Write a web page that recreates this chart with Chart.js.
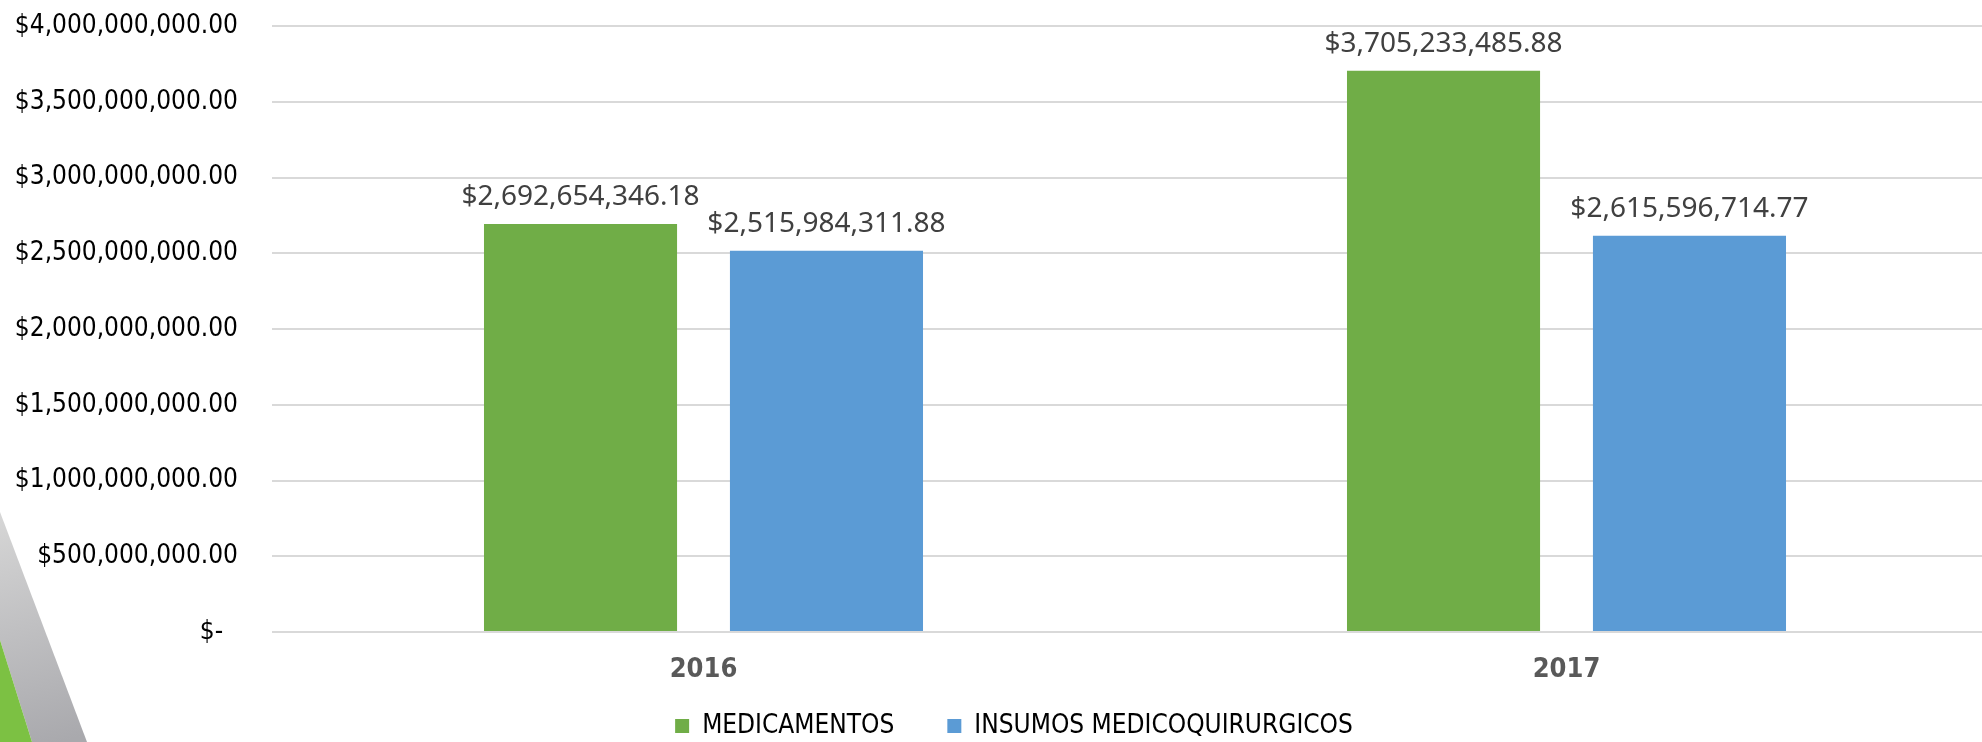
<!DOCTYPE html>
<html>
<head>
<meta charset="utf-8">
<script src="https://cdn.jsdelivr.net/npm/chart.js@4/dist/chart.umd.min.js"></script>
<style>
  html, body { margin: 0; padding: 0; background: #fff; overflow: hidden; width: 1982px; height: 742px; }
  #wrap { position: absolute; left: 0; top: 0; width: 2000px; height: 773px; }
</style>
</head>
<body>
<div id="wrap"><canvas id="medicine-chart" width="2000" height="773"></canvas></div>
<script>
// Chart data
const years = ["2016", "2017"];
const medicamentos = [2692654346.18, 3705233485.88];
const insumos = [2515984311.88, 2615596714.77];
const seriesNames = ["MEDICAMENTOS", "INSUMOS MEDICOQUIRURGICOS"];
const yMax = 4000000000;
const yStep = 500000000;

// Money format like Excel accounting
function money(v) {
  return "$" + v.toLocaleString("en-US", { minimumFractionDigits: 2, maximumFractionDigits: 2 });
}

// Slide decoration in the lower-left corner
const cornerDecor = {
  id: "cornerDecor",
  beforeDraw(chart) {
    const c = chart.ctx;
    c.save();
    const g = c.createLinearGradient(0, 515, 60, 742);
    g.addColorStop(0, "#d6d6d6");
    g.addColorStop(1, "#a9a9ad");
    c.fillStyle = g;
    c.beginPath();
    c.moveTo(0, 512);
    c.lineTo(87, 742);
    c.lineTo(32, 742);
    c.lineTo(0, 640);
    c.closePath();
    c.fill();
    c.fillStyle = "#7cc143";
    c.beginPath();
    c.moveTo(0, 640);
    c.lineTo(32, 742);
    c.lineTo(0, 742);
    c.closePath();
    c.fill();
    c.restore();
  },
};

// Nudge the legend up/right so it sits like the original slide
const legendNudge = {
  id: "legendNudge",
  afterLayout(chart) {
    const lg = chart.legend;
    lg.top -= 24;
    lg.bottom -= 24;
    lg.left += 15;
    lg.right += 15;
  },
};

// Value labels above the bars
const barLabels = {
  id: "barLabels",
  afterDatasetsDraw(chart) {
    const c = chart.ctx;
    c.save();
    c.font = "28px 'Noto Sans'";
    c.fillStyle = "#404040";
    c.textAlign = "center";
    c.textBaseline = "alphabetic";
    chart.data.datasets.forEach((ds, i) => {
      chart.getDatasetMeta(i).data.forEach((bar, j) => {
        c.fillText(money(ds.data[j]), bar.x, bar.y - 19);
      });
    });
    c.restore();
  },
};

const ctx = document.getElementById("medicine-chart").getContext("2d");
new Chart(ctx, {
  type: "bar",
  data: {
    labels: years,
    datasets: [
      { label: seriesNames[0], data: medicamentos, backgroundColor: "#70ad47" },
      { label: seriesNames[1], data: insumos, backgroundColor: "#5b9bd5" },
    ],
  },
  options: {
    responsive: false,
    animation: false,
    layout: { padding: { left: 0, right: 2, top: 26, bottom: 0 } },
    datasets: { bar: { barPercentage: 0.785, categoryPercentage: 0.57 } },
    scales: {
      x: {
        grid: { display: false, drawTicks: false },
        border: { display: false },
        ticks: {
          padding: 22,
          color: "#595959",
          font: { family: "'DejaVu Sans Condensed', 'DejaVu Sans'", size: 27, weight: "bold" },
        },
        afterFit(scale) {
          scale.height = 52;
        },
      },
      y: {
        min: 0,
        max: yMax,
        grid: { color: "#d9d9d9", lineWidth: 2, drawTicks: true, tickLength: 30, tickColor: "rgba(0,0,0,0)" },
        border: { display: false },
        ticks: {
          stepSize: yStep,
          padding: 4,
          color: "#000",
          font: { family: "'DejaVu Sans Condensed', 'DejaVu Sans'", size: 26 },
          callback: (v) => (v === 0 ? "$-  " : money(v)),
        },
        afterFit(scale) {
          scale.width = 272;
        },
      },
    },
    plugins: {
      tooltip: { enabled: false },
      legend: {
        position: "bottom",
        labels: {
          boxWidth: 14,
          boxHeight: 14,
          padding: 53,
          color: "#000",
          font: { family: "'DejaVu Sans Condensed', 'DejaVu Sans'", size: 26 },
        },
      },
    },
  },
  plugins: [cornerDecor, legendNudge, barLabels],
});
</script>
</body>
</html>
